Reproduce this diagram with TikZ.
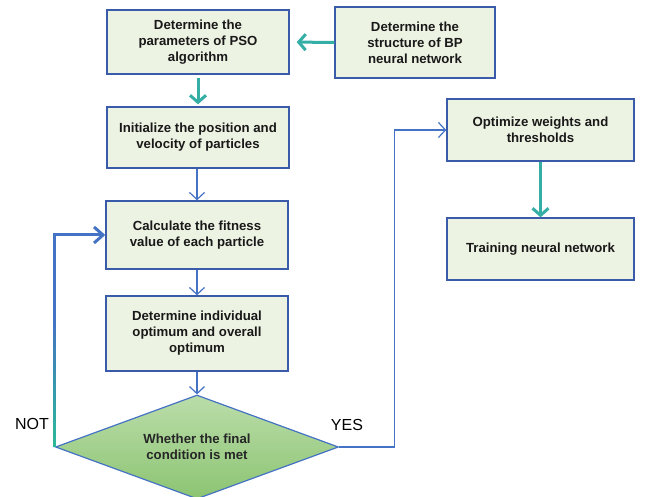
\documentclass[tikz,border=0pt]{standalone}
\usepackage{fontspec}
\setmainfont{Liberation Sans}
\usetikzlibrary{shapes.geometric,arrows.meta,calc}
\definecolor{boxfill}{HTML}{EDF3E3}
\definecolor{boxline}{HTML}{3A5BA9}
\definecolor{thinblue}{HTML}{4472C4}
\definecolor{tealc}{HTML}{35AEA6}
\definecolor{dtop}{HTML}{BBDDAA}
\definecolor{dbot}{HTML}{8CC472}
\definecolor{loopgreen}{HTML}{2DB89A}
\begin{document}
\begin{tikzpicture}[x=1pt,y=-1pt,
  pbox/.style={draw=boxline, line width=1.4pt, fill=boxfill, align=center,
    inner sep=0pt, font=\fontsize{13.2}{16}\selectfont\bfseries, text=black!90},
  tealarrow/.style={draw=tealc, line width=3pt, -{Straight Barb[length=7pt,width=16pt]}},
  thinarrow/.style={draw=thinblue, line width=1.2pt, -{Straight Barb[length=7pt,width=15pt]}},
  looparrow/.style={draw=thinblue, line width=3pt, -{Straight Barb[length=9pt,width=16pt]}},
  lbl/.style={font=\fontsize{16}{19}\selectfont, inner sep=0pt}
]
\useasboundingbox (0,0) rectangle (649,497);

\node[pbox, minimum width=182pt, minimum height=64pt] (par) at (198,42) {Determine the\\parameters of PSO\\algorithm};
\node[pbox, minimum width=160pt, minimum height=71pt] (bp) at (415,42.5) {Determine the\\structure of BP\\neural network};
\node[pbox, minimum width=182pt, minimum height=61pt] (init) at (198,137.5) {Initialize the position and\\velocity of particles};
\node[pbox, minimum width=182pt, minimum height=68pt] (calc) at (197,235) {Calculate the fitness\\value of each particle};
\node[pbox, minimum width=182pt, minimum height=75pt] (opt) at (197,333.5) {Determine individual\\optimum and overall\\optimum};
\node[diamond, aspect=2.72, draw=thinblue, line width=1.2pt, top color=dtop, bottom color=dbot,
  minimum width=283pt, minimum height=104pt, inner sep=0pt, align=center,
  font=\fontsize{13.2}{16}\selectfont\bfseries, text=black!85] (dia) at (197,447) {Whether the final\\condition is met};
\node[pbox, minimum width=187pt, minimum height=62pt] (ow) at (540.5,130) {Optimize weights and\\thresholds};
\node[pbox, minimum width=187pt, minimum height=62pt] (tr) at (540.5,249) {Training neural network};

\node[lbl] (nl) at (32,424) {NOT};
\node[lbl] (yl) at (347,425) {YES};

\draw[tealarrow, shorten >=7pt] (bp.west) -- (par.east);
\draw[tealarrow, shorten <=3pt, shorten >=2pt] (par.south) -- (init.north);
\draw[tealarrow] (ow.south) -- (tr.north);

\draw[thinarrow] (init.south -| calc.north) -- (calc.north);
\draw[thinarrow] (calc.south) -- (opt.north);
\draw[thinarrow] (opt.south) -- (dia.north);

\draw[thinarrow] (dia.east) -- ++(55,0) |- (ow.west);

\draw[looparrow, line join=miter] (dia.west) |- (calc.west);
\foreach \i in {0,...,24} {
  \pgfmathtruncatemacro{\p}{100-4*\i}
  \draw[line width=3pt, color=loopgreen!\p!thinblue] ($(dia.west)+(0,-\i*5)$) -- ++(0,-5.5);
}
\end{tikzpicture}
\end{document}
